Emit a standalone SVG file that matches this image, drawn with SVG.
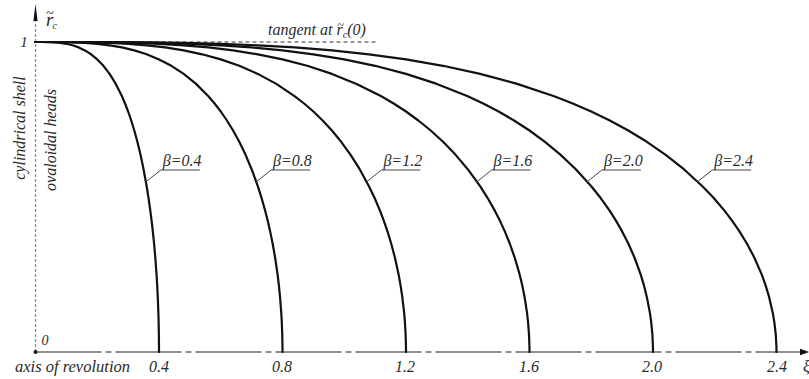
<svg xmlns="http://www.w3.org/2000/svg" width="809" height="379" viewBox="0 0 809 379">
<style>
  .curve{fill:none;stroke:#111;stroke-width:2.2;stroke-linejoin:round;stroke-linecap:round;vector-effect:non-scaling-stroke}
  .leader{fill:none;stroke:#444;stroke-width:1}
</style>
<rect width="809" height="379" fill="#fff"/>

<g id="axes">
  <line x1="35.5" y1="352" x2="35.5" y2="20" stroke="#8a8a8a" stroke-width="1.3" stroke-dasharray="3 2"/>
  <polygon points="35.5,4 33.4,21 37.6,21" fill="#111"/>
  <line x1="35.5" y1="352" x2="801" y2="352" stroke="#222" stroke-width="1" stroke-dasharray="66 4 6 4"/>
  <polygon points="809,352 800,348.8 800,355.2" fill="#111"/>
  <circle cx="35.5" cy="352" r="2" fill="#111"/>
  <line x1="35.5" y1="42" x2="377" y2="42" stroke="#333" stroke-width="1" stroke-dasharray="4 3"/>
</g>

<g id="axis-labels" fill="#2a2a2a" font-family="Liberation Serif" font-style="italic" font-size="16">
  <text x="46" y="26" font-size="19">r<tspan font-size="14" dx="-7.5" dy="-8">~</tspan><tspan font-size="10" dx="-1" dy="11">c</tspan></text>
  <text x="24" y="47" font-size="15" text-anchor="middle">1</text>
  <text x="45" y="345" font-size="14" text-anchor="middle">0</text>
  <text x="15" y="372" textLength="115" lengthAdjust="spacingAndGlyphs">axis of revolution</text>
  <text x="803" y="372">ξ</text>
  <text transform="translate(25 128) rotate(-90)" text-anchor="middle">cylindrical shell</text>
  <text transform="translate(56 140) rotate(-90)" text-anchor="middle">ovaloidal heads</text>
  <text x="268" y="35">tangent at r<tspan font-size="12" dx="-5.5" dy="-6">~</tspan><tspan font-size="10" dx="-1" dy="9">c</tspan><tspan dy="-3">(0)</tspan></text>
</g>

<g id="ticks" fill="#2a2a2a" text-anchor="middle" font-family="Liberation Serif" font-style="italic" font-size="16">
  <text x="159" y="372">0.4</text>
  <text x="282" y="372">0.8</text>
  <text x="405" y="372">1.2</text>
  <text x="529" y="372">1.6</text>
  <text x="652" y="372">2.0</text>
  <text x="777" y="372">2.4</text>
</g>

<g id="curves">
  <polyline id="c04" class="curve" vector-effect="non-scaling-stroke" transform="matrix(0.1235 0 0 1 35.5 0)" points="0,42 50,42 100,42.1 150,42.4 200,42.9 250,43.8 300,45.3 350,47.4 400,50.4 450,54.3 500,59.4 550,65.8 600,73.9 650,83.9 700,96.3 725,103.5 750,111.5 775,120.5 800,130.5 825,141.8 850,154.6 875,169.2 900,186.2 915,197.8 930,210.9 940,220.6 950,231.4 960,243.5 970,257.5 980,274.4 985,284.6 990,296.9 995,312.9 997,321.7 999,334.5 999.9,346.5 1000,352"/>
  <polyline id="c08" class="curve" vector-effect="non-scaling-stroke" transform="matrix(0.247 0 0 1 35.5 0)" points="0,42 50,42 100,42.1 150,42.4 200,42.9 250,43.8 300,45.3 350,47.4 400,50.4 450,54.3 500,59.4 550,65.8 600,73.9 650,83.9 700,96.3 725,103.5 750,111.5 775,120.5 800,130.5 825,141.8 850,154.6 875,169.2 900,186.2 915,197.8 930,210.9 940,220.6 950,231.4 960,243.5 970,257.5 980,274.4 985,284.6 990,296.9 995,312.9 997,321.7 999,334.5 999.9,346.5 1000,352"/>
  <polyline id="c12" class="curve" vector-effect="non-scaling-stroke" transform="matrix(0.3705 0 0 1 35.5 0)" points="0,42 50,42 100,42.1 150,42.4 200,42.9 250,43.8 300,45.3 350,47.4 400,50.4 450,54.3 500,59.4 550,65.8 600,73.9 650,83.9 700,96.3 725,103.5 750,111.5 775,120.5 800,130.5 825,141.8 850,154.6 875,169.2 900,186.2 915,197.8 930,210.9 940,220.6 950,231.4 960,243.5 970,257.5 980,274.4 985,284.6 990,296.9 995,312.9 997,321.7 999,334.5 999.9,346.5 1000,352"/>
  <polyline id="c16" class="curve" vector-effect="non-scaling-stroke" transform="matrix(0.494 0 0 1 35.5 0)" points="0,42 50,42 100,42.1 150,42.4 200,42.9 250,43.8 300,45.3 350,47.4 400,50.4 450,54.3 500,59.4 550,65.8 600,73.9 650,83.9 700,96.3 725,103.5 750,111.5 775,120.5 800,130.5 825,141.8 850,154.6 875,169.2 900,186.2 915,197.8 930,210.9 940,220.6 950,231.4 960,243.5 970,257.5 980,274.4 985,284.6 990,296.9 995,312.9 997,321.7 999,334.5 999.9,346.5 1000,352"/>
  <polyline id="c20" class="curve" vector-effect="non-scaling-stroke" transform="matrix(0.6175 0 0 1 35.5 0)" points="0,42 50,42 100,42.1 150,42.4 200,42.9 250,43.8 300,45.3 350,47.4 400,50.4 450,54.3 500,59.4 550,65.8 600,73.9 650,83.9 700,96.3 725,103.5 750,111.5 775,120.5 800,130.5 825,141.8 850,154.6 875,169.2 900,186.2 915,197.8 930,210.9 940,220.6 950,231.4 960,243.5 970,257.5 980,274.4 985,284.6 990,296.9 995,312.9 997,321.7 999,334.5 999.9,346.5 1000,352"/>
  <polyline id="c24" class="curve" vector-effect="non-scaling-stroke" transform="matrix(0.741 0 0 1 35.5 0)" points="0,42 50,42 100,42.1 150,42.4 200,42.9 250,43.8 300,45.3 350,47.4 400,50.4 450,54.3 500,59.4 550,65.8 600,73.9 650,83.9 700,96.3 725,103.5 750,111.5 775,120.5 800,130.5 825,141.8 850,154.6 875,169.2 900,186.2 915,197.8 930,210.9 940,220.6 950,231.4 960,243.5 970,257.5 980,274.4 985,284.6 990,296.9 995,312.9 997,321.7 999,334.5 999.9,346.5 1000,352"/>
</g>

<g id="curve-labels" fill="#2a2a2a" font-family="Liberation Serif" font-style="italic" font-size="16">
  <g id="label-b04">
    <polyline class="leader" points="145.8,182 160.8,170 199.8,170"/>
    <text x="162.8" y="166">β=0.4</text>
  </g>
  <g id="label-b08">
    <polyline class="leader" points="256.1,182 271.1,170 310.1,170"/>
    <text x="273.1" y="166">β=0.8</text>
  </g>
  <g id="label-b12">
    <polyline class="leader" points="366.4,182 381.4,170 420.4,170"/>
    <text x="383.4" y="166">β=1.2</text>
  </g>
  <g id="label-b16">
    <polyline class="leader" points="476.6,182 491.6,170 530.6,170"/>
    <text x="493.6" y="166">β=1.6</text>
  </g>
  <g id="label-b20">
    <polyline class="leader" points="586.9,182 601.9,170 640.9,170"/>
    <text x="603.9" y="166">β=2.0</text>
  </g>
  <g id="label-b24">
    <polyline class="leader" points="697.2,182 712.2,170 751.2,170"/>
    <text x="714.2" y="166">β=2.4</text>
  </g>
</g>
</svg>
